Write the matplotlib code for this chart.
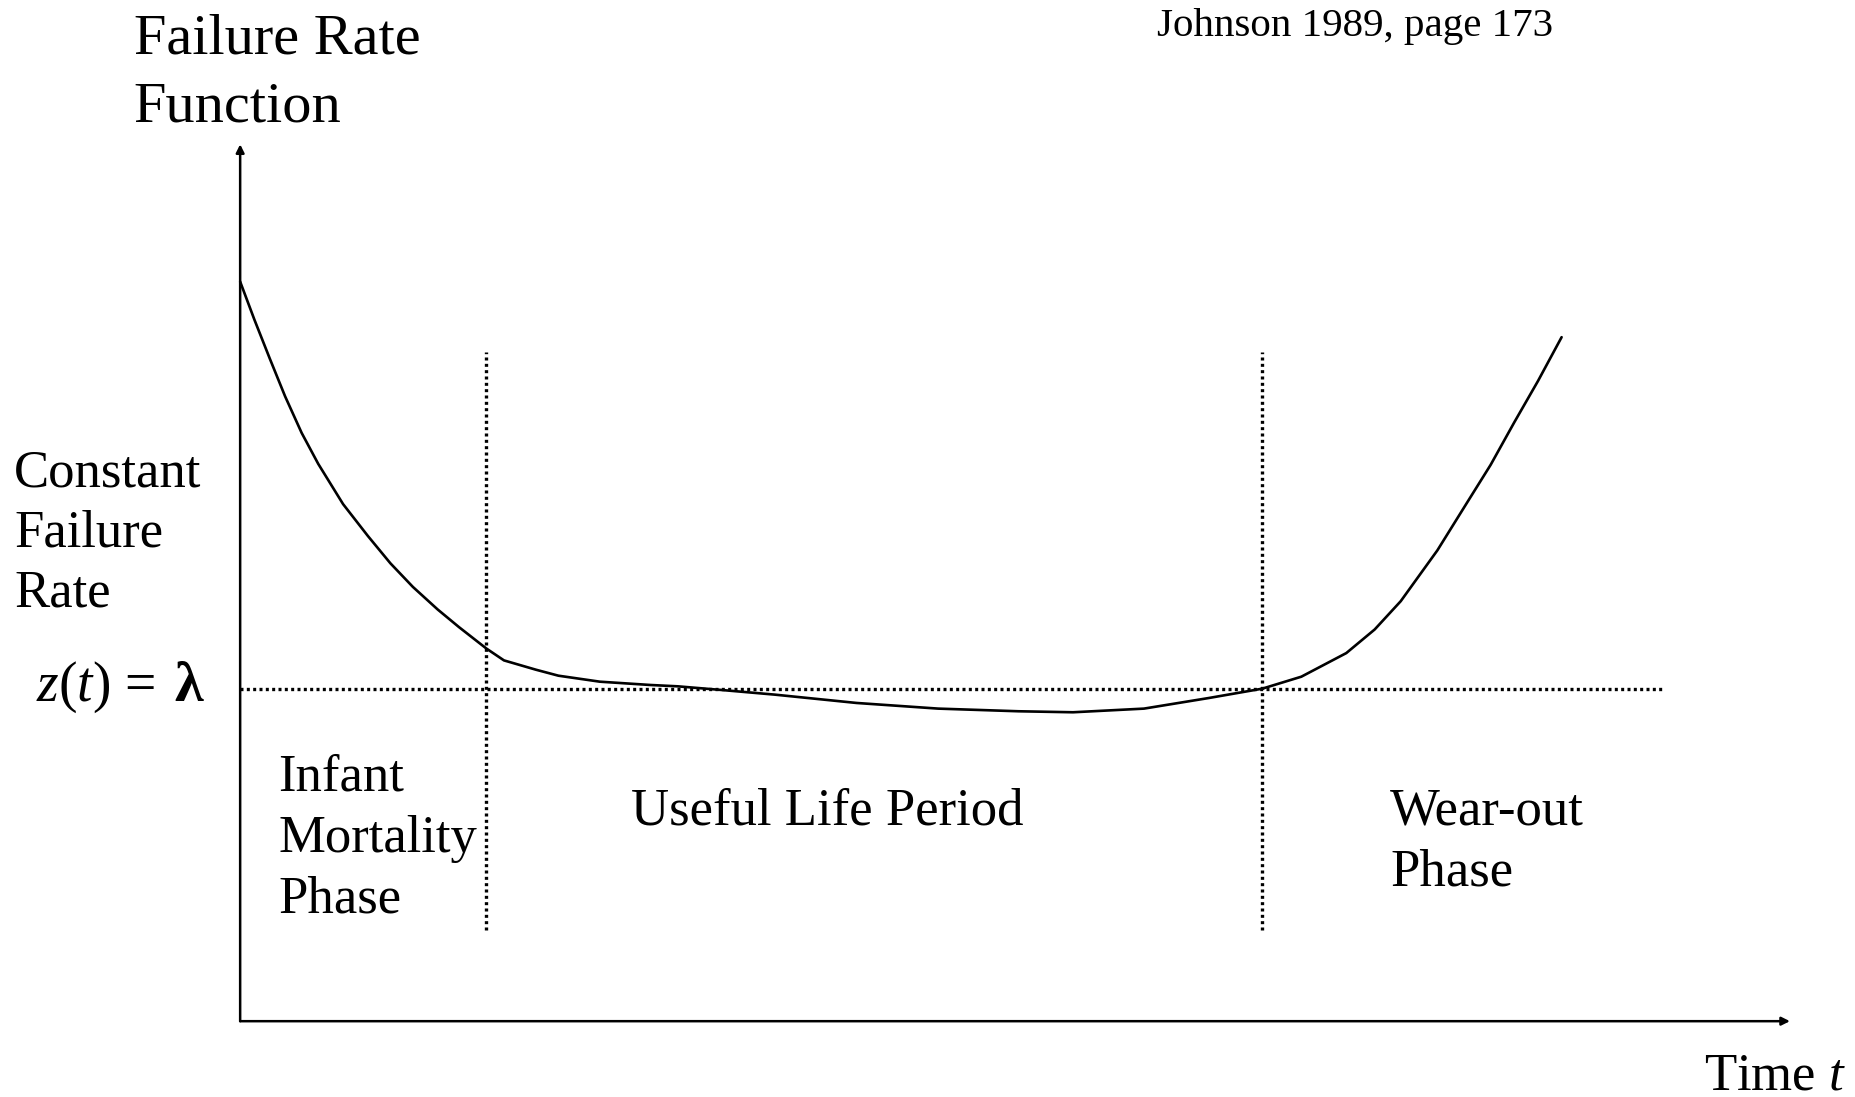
import matplotlib
matplotlib.use("Agg")
import matplotlib.pyplot as plt

plt.rcParams['font.family'] = ['Liberation Serif', 'DejaVu Serif']
plt.rcParams['mathtext.fontset'] = 'custom'
plt.rcParams['mathtext.rm'] = 'Liberation Serif'
plt.rcParams['mathtext.it'] = 'Liberation Serif:italic'

# bathtub curve (t in arbitrary time units, z relative to lambda = 1)
t = [0, 0.12, 0.25, 0.38, 0.52, 0.66, 0.87, 1.08, 1.27, 1.46, 1.67, 1.85, 2.08,
     2.23, 2.50, 2.69, 3.04, 3.47, 3.70, 4.07, 4.52, 5.21, 5.90, 6.58, 7.04, 7.64,
     8.19, 8.64, 8.97, 9.35, 9.59, 9.81, 10.12, 10.37, 10.57, 10.77, 10.97, 11.17]
z = [2.224, 2.110, 1.993, 1.879, 1.769, 1.676, 1.555, 1.459, 1.377, 1.306, 1.238,
     1.185, 1.121, 1.085, 1.057, 1.039, 1.021, 1.011, 1.007, 0.996, 0.982, 0.957,
     0.940, 0.932, 0.929, 0.940, 0.972, 1.000, 1.036, 1.107, 1.178, 1.263, 1.416,
     1.559, 1.673, 1.801, 1.925, 2.057]

lam = 1.0
phase_bounds = [2.08, 8.64]
phase_top, phase_bottom = 2.011, 0.274
lam_line_end = 12.04
y_axis_top = 2.637
x_axis_end = 13.10

fig = plt.figure(figsize=(18.55, 10.97), dpi=100)
ax = fig.add_axes([0, 0, 1, 1])
ax.set_xlim(-2.03, 13.65)
ax.set_ylim(-0.228, 3.071)
ax.axis('off')

# axes with arrows
arrow = dict(arrowstyle='-|>', lw=1.8, color='black', mutation_scale=12,
             shrinkA=0, shrinkB=0)
ax.annotate('', xy=(0, y_axis_top), xytext=(0, 0), arrowprops=arrow)
ax.annotate('', xy=(x_axis_end, 0), xytext=(0, 0), arrowprops=arrow)

# constant rate and phase boundaries
ax.plot([0, lam_line_end], [lam, lam], color='black', lw=2.4, ls=(0, (0.9, 1.0)))
for b in phase_bounds:
    ax.plot([b, b], [phase_bottom, phase_top], color='black', lw=2.4, ls=(0, (0.9, 1.0)))

ax.plot(t, z, color='black', lw=1.9, solid_capstyle='round', solid_joinstyle='round')

# labels
ax.text(-0.90, 2.911, 'Failure Rate', fontsize=42, va='baseline')
ax.text(-0.90, 2.705, 'Function', fontsize=42, va='baseline')
ax.text(7.75, 2.964, 'Johnson 1989, page 173', fontsize=29.5, va='baseline')

for s, zz in zip(['Constant', 'Failure', 'Rate'], [1.609, 1.427, 1.246]):
    ax.text(-1.91, zz, s, fontsize=38, va='baseline')
ax.text(-0.72, 0.964, r'$z$($t$) =', fontsize=40, va='baseline', ha='right')
ax.text(-0.31, 0.964, 'λ', fontsize=42, va='baseline', ha='right', fontweight='bold')

for s, zz in zip(['Infant', 'Mortality', 'Phase'], [0.694, 0.509, 0.327]):
    ax.text(0.32, zz, s, fontsize=38, va='baseline')
ax.text(3.30, 0.591, 'Useful Life Period', fontsize=38, va='baseline')
for s, zz in zip(['Wear-out', 'Phase'], [0.591, 0.409]):
    ax.text(9.72, zz, s, fontsize=38, va='baseline')
ax.text(12.37, -0.206, r'Time $t$', fontsize=38, va='baseline')

fig.savefig('out.png', dpi=100)
